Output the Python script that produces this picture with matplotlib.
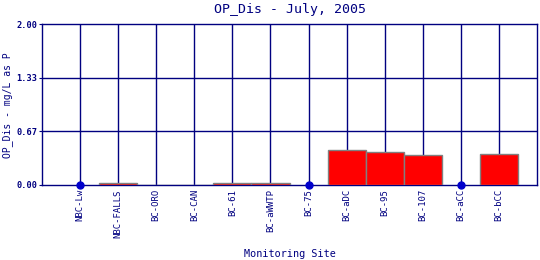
import matplotlib
matplotlib.use("Agg")
import matplotlib.pyplot as plt
import numpy as np

sites = ["NBC-Lw", "NBC-FALLS", "BC-ORO", "BC-CAN", "BC-61", "BC-aWWTP",
         "BC-75", "BC-aDC", "BC-95", "BC-107", "BC-aCC", "BC-bCC"]
values = [np.nan, 0.02, 0.0, 0.0, 0.02, 0.02, np.nan, 0.43, 0.405, 0.37, np.nan, 0.38]
yticks = [0.0, 0.67, 1.33, 2.0]
ytick_labels = ["0.00", "0.67", "1.33", "2.00"]

navy = "#000080"
plt.rcParams['font.family'] = ['DejaVu Sans Mono']

fig = plt.figure(figsize=(5.4, 2.6), dpi=100)
ax = fig.add_axes([42/540, 1 - 185/260, (537-42)/540, (185-24)/260])

x = np.arange(len(sites))
vals = np.array(values, dtype=float)
present = ~np.isnan(vals)
missing = np.isnan(vals)

for xi in x:
    ax.axvline(xi, color=navy, lw=1.0, zorder=1)
for yv in yticks[1:3]:
    ax.axhline(yv, color=navy, lw=1.0, zorder=1)

ax.bar(x[present], vals[present], width=1.0, color="#FF0000",
       edgecolor="#808080", linewidth=1.0, zorder=3)
ax.plot(x[missing], np.zeros(missing.sum()), 'o', color="#0000CC",
        markersize=5, zorder=4, clip_on=False)

ax.set_xlim(-1, 12)
ax.set_ylim(0, 2.0)
ax.set_yticks(yticks)
ax.set_yticklabels(ytick_labels, fontsize=6.2, color=navy, fontweight='bold')
ax.set_xticks(x)
ax.set_xticklabels(sites, rotation=90, fontsize=6.5, color=navy)
ax.tick_params(axis='both', length=0, pad=3)
ax.tick_params(axis='y', length=2, color=navy, direction='out', pad=1.5)
for s in ax.spines.values():
    s.set_color(navy)
    s.set_linewidth(1.0)

fig.text(289.5/540, 1 - 9/260, "OP_Dis - July, 2005", ha='center', va='center',
         fontsize=9.5, color=navy)
fig.text(289.5/540, 1 - 254/260, "Monitoring Site", ha='center', va='center',
         fontsize=7.3, color=navy)
fig.text(8/540, 1 - 105/260, "OP_Dis - mg/L as P", ha='center', va='center',
         rotation=90, fontsize=7, color=navy)

fig.savefig("out.png", dpi=100)
